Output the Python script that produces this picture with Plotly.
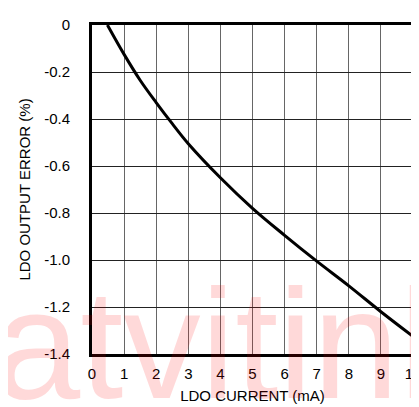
import plotly.graph_objects as go

# LDO current (mA) vs output error (%)
current_ma = [0.48, 1.0, 1.5, 2.0, 2.5, 3.0, 4.0, 5.0, 6.0, 7.0, 8.0, 9.0, 10.0]
error_pct = [0.0, -0.125, -0.235, -0.33, -0.42, -0.505, -0.65, -0.78, -0.895, -1.005, -1.11, -1.22, -1.325]

x_ticks = [0, 1, 2, 3, 4, 5, 6, 7, 8, 9, 10]
y_ticks = [0, -0.2, -0.4, -0.6, -0.8, -1.0, -1.2, -1.4]
y_labels = ['0', '-0.2', '-0.4', '-0.6', '-0.8', '-1.0', '-1.2', '-1.4']

FONT = 'Liberation Sans, Arial, sans-serif'

fig = go.Figure()

fig.add_trace(go.Scatter(
    x=current_ma,
    y=error_pct,
    mode='lines',
    line=dict(color='black', width=3, shape='spline', smoothing=1.0),
    showlegend=False,
))

fig.update_layout(
    width=419,
    height=407,
    margin=dict(l=84, r=6, t=17, b=61),
    paper_bgcolor='white',
    plot_bgcolor='white',
    font=dict(family=FONT, size=15, color='black'),
    xaxis=dict(
        range=[0, 10],
        tickvals=x_ticks,
        ticktext=[str(v) for v in x_ticks],
        showgrid=True,
        gridcolor='#666666',
        gridwidth=1,
        zeroline=False,
        showline=True,
        linecolor='black',
        linewidth=3,
        mirror=True,
        ticks='',
        ticklabelstandoff=4,
        title=dict(text='LDO CURRENT (mA)', font=dict(size=15), standoff=10),
    ),
    yaxis=dict(
        range=[-1.4, 0],
        tickvals=y_ticks,
        ticktext=y_labels,
        showgrid=True,
        gridcolor='#222222',
        gridwidth=1,
        zeroline=False,
        showline=True,
        linecolor='black',
        linewidth=3,
        mirror=True,
        ticks='',
        ticklabelstandoff=16,
        title=dict(text='LDO OUTPUT ERROR (%)', font=dict(size=15), standoff=10),
    ),
)

# watermark
fig.add_annotation(
    text='atvitinh',
    xref='paper', yref='paper',
    x=-0.31, y=-0.24,
    xanchor='left', yanchor='bottom',
    showarrow=False,
    font=dict(family='Liberation Sans, Arial, sans-serif', size=155, color='rgba(255,0,0,0.15)'),
)

fig.write_html("out.html")
